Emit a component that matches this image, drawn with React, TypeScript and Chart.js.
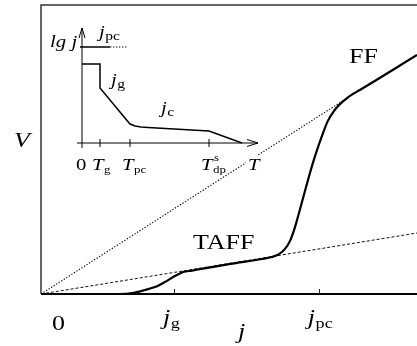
import React, { useEffect, useRef } from "react";
import { Chart, registerables } from "chart.js";

Chart.register(...registerables);

// ---------- Main chart data (j on x, V on y, arbitrary units 0..10) ----------
const mainCurveX = [0, 2.1, 2.42, 2.77, 3.03, 3.3, 3.56, 3.78, 4.02, 5.03, 5.88, 6.14, 6.33, 6.49, 6.62, 6.73, 6.84, 6.97, 7.1, 7.23, 7.37, 7.5, 7.63, 7.79, 7.95, 8.14, 8.32, 8.48, 10];
const mainCurveY = [0, 0, 0.03, 0.14, 0.24, 0.42, 0.62, 0.76, 0.81, 1.04, 1.21, 1.28, 1.38, 1.56, 1.83, 2.21, 2.7, 3.32, 3.94, 4.53, 5.09, 5.57, 5.99, 6.33, 6.57, 6.78, 6.94, 7.06, 8.27];
const taffLineX = [0, 10];
const taffLineY = [0, 2.11];
const ffLineX = [0, 8.14];
const ffLineY = [0, 6.78];
const jTicks = [3.54, 7.39]; // j_g, j_pc
const xRange = [0, 10];
const yRange = [0, 10];

// ---------- Inset data (T on x, lg j on y) ----------
const insetT = [0, 1.8, 1.8, 4.8, 5.3, 5.9, 6.6, 12.7, 16];
const insetLgJ = [7.9, 7.9, 5.5, 1.9, 1.7, 1.6, 1.55, 1.2, 0];
const jpcSolidT = [-0.2, 2.8];
const jpcDotT = [2.8, 4.6];
const jpcLevel = 9.6;
const insetTicks = [1.8, 4.8, 12.7]; // T_g, T_pc, T_dp^s
const insetXRange = [-0.5, 17.6];
const insetYRange = [-0.5, 11.5];

const W = 417;
const H = 346;
const SERIF = "'Liberation Serif', 'DejaVu Serif', serif";
const SX = 1.3; // horizontal stretch of the lettering

function pts(xs: number[], ys: number[]) {
  return xs.map((x, i) => ({ x, y: ys[i] }));
}

// draws stretched text, left aligned at (x, baseline y); returns width
function txt(ctx: CanvasRenderingContext2D, s: string, x: number, y: number, font: string) {
  ctx.save();
  ctx.font = font;
  ctx.textAlign = "left";
  ctx.textBaseline = "alphabetic";
  ctx.fillStyle = "#000";
  ctx.translate(x, y);
  ctx.scale(SX, 1);
  ctx.fillText(s, 0, 0);
  const w = ctx.measureText(s).width * SX;
  ctx.restore();
  return w;
}

function sym(
  ctx: CanvasRenderingContext2D,
  x: number,
  y: number,
  main: string,
  size: number,
  sub: string,
  subSize: number,
  subDy: number,
  sup?: string
) {
  const w = txt(ctx, main, x, y, `italic ${size}px ${SERIF}`);
  if (sub) txt(ctx, sub, x + w + 0.5, y + subDy, `${subSize}px ${SERIF}`);
  if (sup) txt(ctx, sup, x + w + 1.5, y - size * 0.58, `${subSize}px ${SERIF}`);
}

const mainDecor = {
  id: "mainDecor",
  beforeDatasetsDraw(chart: any) {
    const { ctx, chartArea } = chart;
    const xs = chart.scales.x;
    const ys = chart.scales.y;
    ctx.save();
    ctx.strokeStyle = "#333";
    ctx.lineWidth = 1.5;
    ctx.beginPath();
    ctx.moveTo(chartArea.left, chartArea.bottom);
    ctx.lineTo(chartArea.left, chartArea.top);
    ctx.lineTo(W, chartArea.top);
    ctx.stroke();
    ctx.strokeStyle = "#000";
    ctx.lineWidth = 2;
    ctx.beginPath();
    ctx.moveTo(chartArea.left, ys.getPixelForValue(0));
    ctx.lineTo(W, ys.getPixelForValue(0));
    ctx.stroke();
    ctx.lineWidth = 1;
    ctx.strokeStyle = "#222";
    jTicks.forEach((t) => {
      const px = Math.round(xs.getPixelForValue(t)) + 0.5;
      ctx.beginPath();
      ctx.moveTo(px, ys.getPixelForValue(0));
      ctx.lineTo(px, ys.getPixelForValue(0) - 5);
      ctx.stroke();
    });
    ctx.restore();
  },
  afterDraw(chart: any) {
    const { ctx } = chart;
    const xs = chart.scales.x;
    const F = `20px ${SERIF}`;
    txt(ctx, "0", 52, 330, F);
    const g = xs.getPixelForValue(jTicks[0]);
    sym(ctx, g - 11, 324, "j", 20, "g", 14, 4);
    const pc = xs.getPixelForValue(jTicks[1]);
    sym(ctx, pc - 11, 324, "j", 20, "pc", 14, 4);
    txt(ctx, "j", 238, 338, `italic 20px ${SERIF}`);
    txt(ctx, "V", 14, 147, `italic 20px ${SERIF}`);
    txt(ctx, "FF", 349, 63, F);
    txt(ctx, "TAFF", 193, 249, F);
  },
};

const insetDecor = {
  id: "insetDecor",
  beforeDatasetsDraw(chart: any) {
    const { ctx } = chart;
    const xs = chart.scales.x;
    const ys = chart.scales.y;
    const ox = xs.getPixelForValue(0);
    const oy = ys.getPixelForValue(0);
    const xEnd = xs.getPixelForValue(insetXRange[1]);
    const yEnd = ys.getPixelForValue(insetYRange[1]);
    ctx.save();
    ctx.strokeStyle = "#000";
    ctx.lineWidth = 1;
    ctx.beginPath();
    ctx.moveTo(xs.getPixelForValue(insetXRange[0]), oy);
    ctx.lineTo(xEnd, oy);
    ctx.moveTo(xEnd - 11, oy - 3.5);
    ctx.lineTo(xEnd, oy);
    ctx.lineTo(xEnd - 11, oy + 3.5);
    ctx.moveTo(ox, ys.getPixelForValue(insetYRange[0]));
    ctx.lineTo(ox, yEnd);
    ctx.moveTo(ox - 3, yEnd + 10);
    ctx.lineTo(ox, yEnd);
    ctx.lineTo(ox + 3, yEnd + 10);
    ctx.stroke();
    insetTicks.forEach((t) => {
      const px = xs.getPixelForValue(t);
      ctx.beginPath();
      ctx.moveTo(px, oy - 4);
      ctx.lineTo(px, oy + 4);
      ctx.stroke();
    });
    ctx.restore();
  },
  afterDraw(chart: any) {
    const { ctx } = chart;
    const xs = chart.scales.x;
    const F = `16px ${SERIF}`;
    const baseY = 170;
    txt(ctx, "0", xs.getPixelForValue(0) - 6, baseY, F);
    sym(ctx, xs.getPixelForValue(insetTicks[0]) - 8, baseY, "T", 16, "g", 10, 3);
    sym(ctx, xs.getPixelForValue(insetTicks[1]) - 8, baseY, "T", 16, "pc", 10, 3);
    sym(ctx, xs.getPixelForValue(insetTicks[2]) - 8, baseY, "T", 16, "dp", 10, 3, "s");
    const tx = xs.getPixelForValue(insetXRange[1]) - 10;
    ctx.save();
    ctx.fillStyle = "#fff";
    ctx.fillRect(tx - 2, 155, 17, 17);
    ctx.restore();
    txt(ctx, "T", tx, baseY, `italic 16px ${SERIF}`);
    txt(ctx, "lg j", 50, 47, `italic 16px ${SERIF}`);
    sym(ctx, 99, 37, "j", 16, "pc", 12, 3);
    sym(ctx, 111, 85, "j", 16, "g", 12, 3);
    sym(ctx, 161, 113, "j", 16, "c", 12, 3);
  },
};

export default function App() {
  const mainRef = useRef<HTMLCanvasElement>(null);
  const insetRef = useRef<HTMLCanvasElement>(null);

  useEffect(() => {
    document.body.style.margin = "0";
    const main = new Chart(mainRef.current!, {
      type: "scatter",
      data: {
        datasets: [
          {
            data: pts(mainCurveX, mainCurveY),
            showLine: true,
            borderColor: "#000",
            borderWidth: 2.2,
            pointRadius: 0,
            cubicInterpolationMode: "monotone",
          } as any,
          {
            data: pts(taffLineX, taffLineY),
            showLine: true,
            borderColor: "#111",
            borderWidth: 1,
            borderDash: [3, 2],
            pointRadius: 0,
          },
          {
            data: pts(ffLineX, ffLineY),
            showLine: true,
            borderColor: "#000",
            borderWidth: 1.1,
            borderDash: [1.3, 1.7],
            pointRadius: 0,
          },
        ],
      },
      options: {
        animation: false,
        responsive: false,
        events: [],
        layout: { padding: { left: 41, top: 5, right: 0, bottom: 52 } },
        plugins: { legend: { display: false }, tooltip: { enabled: false } },
        scales: {
          x: { type: "linear", min: xRange[0], max: xRange[1], display: false },
          y: { type: "linear", min: yRange[0], max: yRange[1], display: false },
        },
      },
      plugins: [mainDecor],
    });
    const inset = new Chart(insetRef.current!, {
      type: "scatter",
      data: {
        datasets: [
          {
            data: pts(insetT, insetLgJ),
            showLine: true,
            borderColor: "#000",
            borderWidth: 1.5,
            pointRadius: 0,
            tension: 0,
          },
          {
            data: pts(jpcSolidT, [jpcLevel, jpcLevel]),
            showLine: true,
            borderColor: "#000",
            borderWidth: 1.5,
            pointRadius: 0,
          },
          {
            data: pts(jpcDotT, [jpcLevel, jpcLevel]),
            showLine: true,
            borderColor: "#000",
            borderWidth: 1.1,
            borderDash: [1.3, 1.7],
            pointRadius: 0,
          },
        ],
      },
      options: {
        animation: false,
        responsive: false,
        events: [],
        layout: { padding: { left: 77, top: 28, right: W - 258, bottom: H - 148 } },
        plugins: { legend: { display: false }, tooltip: { enabled: false } },
        scales: {
          x: { type: "linear", min: insetXRange[0], max: insetXRange[1], display: false },
          y: { type: "linear", min: insetYRange[0], max: insetYRange[1], display: false },
        },
      },
      plugins: [insetDecor],
    });
    return () => {
      main.destroy();
      inset.destroy();
    };
  }, []);

  return (
    <div style={{ position: "relative", width: W, height: H, background: "#fff" }}>
      <canvas ref={mainRef} width={W} height={H} style={{ position: "absolute", left: 0, top: 0 }} />
      <canvas ref={insetRef} width={W} height={H} style={{ position: "absolute", left: 0, top: 0 }} />
    </div>
  );
}
